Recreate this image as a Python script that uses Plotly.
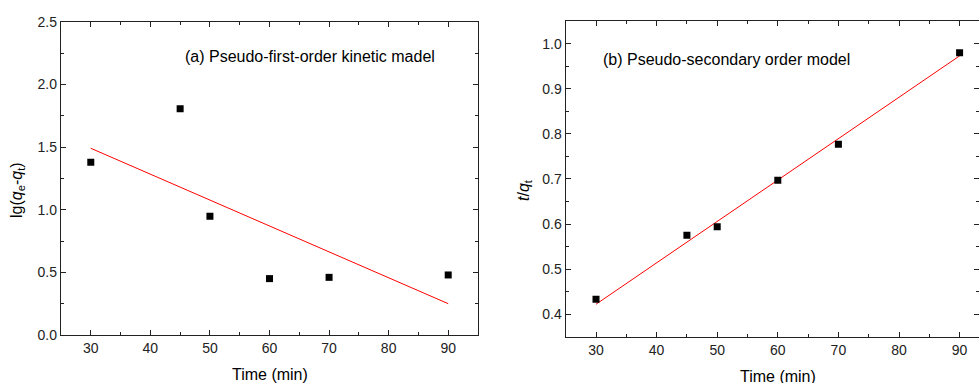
import plotly.graph_objects as go

# Data
time_a = [30, 45, 50, 60, 70, 90]
lg_qe_qt = [1.378, 1.806, 0.947, 0.45, 0.46, 0.479]
fit_a_x = [30, 90]
fit_a_y = [1.49, 0.25]

time_b = [30, 45, 50, 60, 70, 90]
t_over_qt = [0.433, 0.575, 0.594, 0.697, 0.777, 0.980]
fit_b_x = [30, 90]
fit_b_y = [0.422, 0.973]

W, H = 979, 383
FONT = "Liberation Sans, Arial, sans-serif"

fig = go.Figure()
fig.add_trace(go.Scatter(x=fit_a_x, y=fit_a_y, mode="lines",
                         line=dict(color="#ff0000", width=1), xaxis="x", yaxis="y", showlegend=False))
fig.add_trace(go.Scatter(x=time_a, y=lg_qe_qt, mode="markers",
                         marker=dict(symbol="square", color="black", size=7), xaxis="x", yaxis="y", showlegend=False))
fig.add_trace(go.Scatter(x=fit_b_x, y=fit_b_y, mode="lines",
                         line=dict(color="#ff0000", width=1), xaxis="x2", yaxis="y2", showlegend=False))
fig.add_trace(go.Scatter(x=time_b, y=t_over_qt, mode="markers",
                         marker=dict(symbol="square", color="black", size=7), xaxis="x2", yaxis="y2", showlegend=False))

axis_common = dict(showgrid=False, zeroline=False, showline=True, linecolor="#222", linewidth=1.3,
                   mirror="allticks", ticks="inside", ticklen=5, tickwidth=1, tickcolor="#222",
                   automargin=False, tickfont=dict(family=FONT, size=14, color="#222"))


def ann(text, x, y, size, angle=0):
    return dict(text=text, x=x / W, y=1 - y / H, xref="paper", yref="paper", xanchor="center",
                yanchor="middle", showarrow=False, textangle=angle,
                font=dict(family=FONT, size=size, color="black"))


fig.update_layout(
    width=W, height=H, margin=dict(l=0, r=0, t=0, b=0, pad=0, autoexpand=False),
    paper_bgcolor="white", plot_bgcolor="white",
    xaxis=dict(domain=[61 / W, 478 / W], range=[25, 95], dtick=10, tick0=0,
               minor=dict(dtick=5, ticks="inside", ticklen=3, tickcolor="#222"), anchor="y", **axis_common),
    yaxis=dict(domain=[1 - 335 / H, 1 - 21.7 / H], range=[0, 2.5], dtick=0.5, tickformat=".1f",
               minor=dict(dtick=0.25, ticks="inside", ticklen=3, tickcolor="#222"), anchor="x", **axis_common),
    xaxis2=dict(domain=[565.7 / W, 1.0], range=[25, 25 + (W - 565.7) / 6.06], dtick=10, tick0=0,
                minor=dict(dtick=5, ticks="inside", ticklen=3, tickcolor="#222"), anchor="y2", **axis_common),
    yaxis2=dict(domain=[1 - 336.7 / H, 1 - 20.7 / H], range=[0.35, 1.051], dtick=0.1, tick0=0, tickformat=".1f",
                minor=dict(dtick=0.05, ticks="inside", ticklen=3, tickcolor="#222"), anchor="x2", **axis_common),
    annotations=[
        ann("(a) Pseudo-first-order kinetic madel", 310, 57, 16),
        ann("(b) Pseudo-secondary order model", 726.7, 59.3, 16),
        ann("Time (min)", 270, 374, 16),
        ann("Time (min)", 778, 376, 16),
        ann("lg(<i>q</i><sub>e</sub>-<i>q</i><sub>t</sub>)", 17, 190, 16, -90),
        ann("<i>t</i>/<i>q</i><sub>t</sub>", 524, 190, 16, -90),
    ],
)

fig.write_html("out.html", config={"displayModeBar": False},
               post_script="document.body.style.margin='0';document.body.style.overflow='hidden';")
